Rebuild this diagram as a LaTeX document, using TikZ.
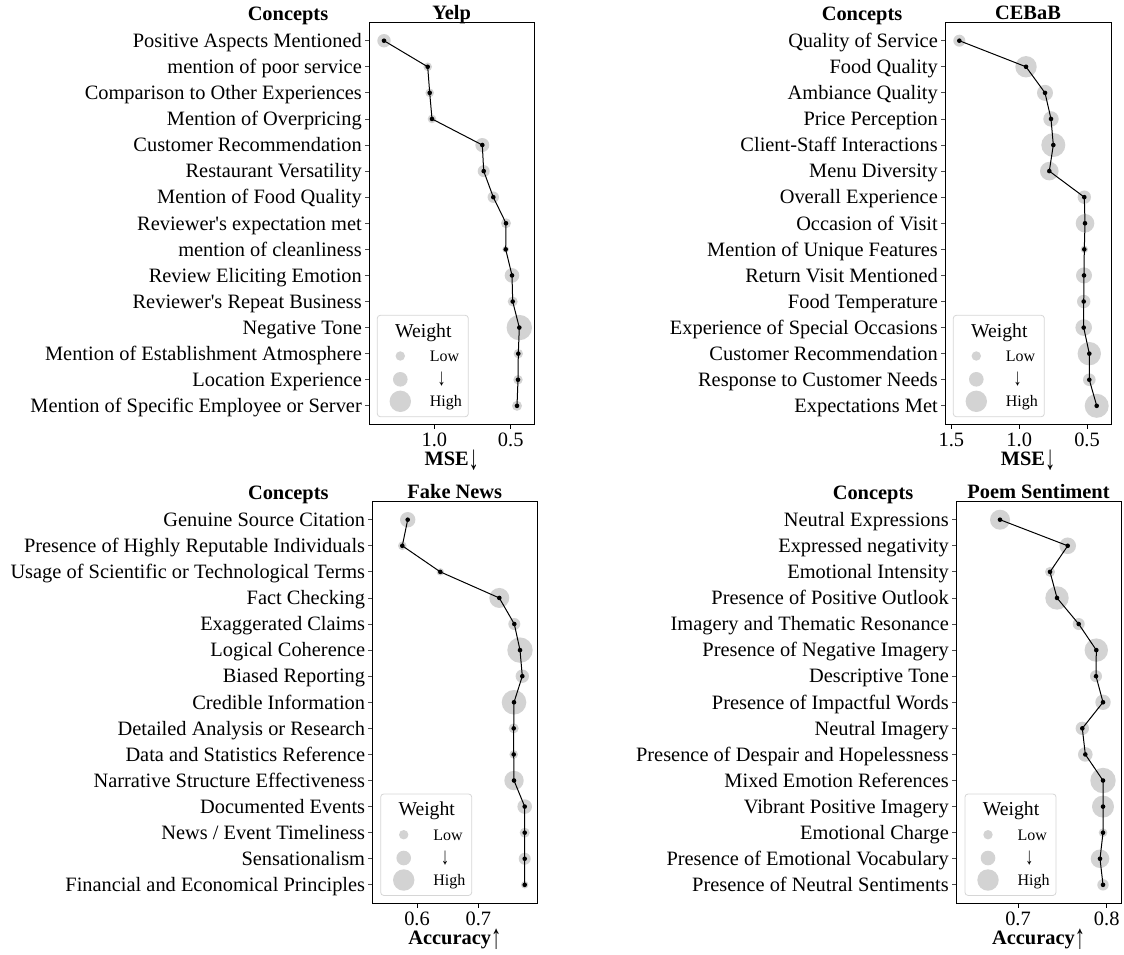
\documentclass[tikz,border=0pt]{standalone}
\usepackage{graphicx}
\usepackage{fontspec}
\setmainfont{Liberation Serif}
\definecolor{wgrey}{HTML}{D3D3D3}
\definecolor{legframe}{HTML}{D6D6D6}
\newcommand\bigfs{\fontsize{20.4}{24}\selectfont}
\newcommand\legfs{\fontsize{16}{19}\selectfont}
\newcommand\dnarrow{\raisebox{-4.5pt}{\scalebox{1}[1.7]{\mdseries ↓}}}
\newcommand\uparr{\raisebox{-4.5pt}{\scalebox{1}[1.7]{\mdseries ↑}}}
\tikzset{
  lbl/.style={anchor=base east, inner sep=0, font=\bigfs},
  ttl/.style={anchor=base, inner sep=0, font=\bigfs\bfseries},
  tck/.style={anchor=base, inner sep=0, font=\bigfs},
  axbox/.style={draw=black, line width=1},
  ytickline/.style={draw=black!70, line width=0.8},
  xtickline/.style={draw=black, line width=0.8},
  wgt/.style={fill=wgrey},
  conn/.style={draw=black, line width=1},
  dot/.style={circle, fill=black, inner sep=0, minimum size=4.6pt},
  legbox/.style={draw=legframe, fill=white, line width=0.8, rounded corners=3},
  legw/.style={anchor=base, inner sep=0, font=\fontsize{19.7}{23}\selectfont},
  legt/.style={anchor=base west, inner sep=0, font=\legfs},
  lega/.style={anchor=center, inner sep=0, font=\legfs},
}
% #1 prefix, #2 box left, #3 box right, #4 box top, #5 labels, #6 x/r pairs
\newcommand\mypanel[6]{%
  \foreach \lab [count=\i] in {#5} {
    \node[lbl] (#1-l\i) at (#2-7, #4+18+26.08*\i-26.08+6.8) {\lab};
    \draw[ytickline] (#2, #4+18+26.08*\i-26.08) -- ++(-4,0);
  }
  \foreach \x/\r [count=\i] in {#6} {
    \coordinate (#1-p\i) at (\x, #4+18+26.08*\i-26.08);
    \fill[wgt] (#1-p\i) circle[radius=\r];
  }
  \draw[conn] (#1-p1) \foreach \i in {2,...,15} { -- (#1-p\i) };
  \foreach \i in {1,...,15} { \node[dot] (#1-d\i) at (#1-p\i) {}; }
  \draw[axbox] (#2,#4) coordinate (#1-tl) rectangle (#3,#4+402) coordinate (#1-br);
}
% #1 prefix, #2 left, #3 top
\newcommand\mylegend[3]{%
  \draw[legbox] (#2,#3) rectangle (#2+91,#3+101.4);
  \node[legw] (#1-w) at (#2+46,#3+21.7) {Weight};
  \fill[wgt] (#2+23,#3+40.7) circle[radius=4.7];
  \fill[wgt] (#2+23,#3+64) circle[radius=7.3];
  \fill[wgt] (#2+23,#3+86) circle[radius=10.7];
  \node[legt] (#1-lo) at (#2+52.4,#3+46) {Low};
  \node[lega] (#1-ar) at (#2+64.4,#3+64.2) {\scalebox{1}[1.5]{↓}};
  \node[legt] (#1-hi) at (#2+52.4,#3+91.5) {High};
}
\begin{document}
\begin{tikzpicture}[x=1pt,y=-1pt]
\useasboundingbox (0,0) rectangle (1124,954);

% ---------------- Yelp ----------------
\mypanel{Y}{369}{534.3}{22.7}{Positive Aspects Mentioned, mention of poor service, Comparison to Other Experiences, Mention of Overpricing, Customer Recommendation, Restaurant Versatility, Mention of Food Quality, Reviewer\textquotesingle s expectation met, mention of cleanliness, Review Eliciting Emotion, Reviewer\textquotesingle s Repeat Business, Negative Tone, Mention of Establishment Atmosphere, Location Experience, Mention of Specific Employee or Server}{384/6.7, 427.7/4.3, 429.7/4.3, 432/4.3, 482.3/7, 483.7/6, 493.3/5.7, 506/5, 505.7/3.3, 512/7.3, 512.7/5, 519.3/12.7, 518.3/4.7, 518/4.7, 517/5}
\mylegend{YL}{377.3}{315.3}
\node[ttl] (Y-title) at (451.7,19) {Yelp};
\node[ttl] (Y-conc) at (288,20) {Concepts};
\draw[xtickline] (434.3,424.7) -- ++(0,4);
\draw[xtickline] (510.7,424.7) -- ++(0,4);
\node[tck] (Y-t1) at (434.3,446) {1.0};
\node[tck] (Y-t2) at (510.7,446) {0.5};
\node[ttl] (Y-xl) at (451.7,465) {MSE\dnarrow};

% ---------------- CEBaB ----------------
\mypanel{C}{945}{1111}{22.7}{Quality of Service, Food Quality, Ambiance Quality, Price Perception, Client-Staff Interactions, Menu Diversity, Overall Experience, Occasion of Visit, Mention of Unique Features, Return Visit Mentioned, Food Temperature, Experience of Special Occasions, Customer Recommendation, Response to Customer Needs, Expectations Met}{959.3/6, 1026/10.7, 1045/8, 1051/7.7, 1053.3/12, 1049.3/9.3, 1084.3/6.7, 1085/9.3, 1084.3/3.7, 1084/8, 1083.7/6.7, 1083.7/8.3, 1089.3/11.7, 1089.3/6.3, 1096.7/12}
\mylegend{CL}{953.3}{315.3}
\node[ttl] (C-title) at (1028,19) {CEBaB};
\node[ttl] (C-conc) at (862,20) {Concepts};
\draw[xtickline] (951.3,424.7) -- ++(0,4);
\draw[xtickline] (1019.2,424.7) -- ++(0,4);
\draw[xtickline] (1087,424.7) -- ++(0,4);
\node[tck] (C-t1) at (951.3,446) {1.5};
\node[tck] (C-t2) at (1019.2,446) {1.0};
\node[tck] (C-t3) at (1087,446) {0.5};
\node[ttl] (C-xl) at (1028,465) {MSE\dnarrow};

% ---------------- Fake News ----------------
\mypanel{F}{372.3}{537.3}{501.7}{Genuine Source Citation, Presence of Highly Reputable Individuals, Usage of Scientific or Technological Terms, Fact Checking, Exaggerated Claims, Logical Coherence, Biased Reporting, Credible Information, Detailed Analysis or Research, Data and Statistics Reference, Narrative Structure Effectiveness, Documented Events, News / Event Timeliness, Sensationalism, Financial and Economical Principles}{407.7/7.7, 402.3/4.3, 440.3/3.7, 499.3/10, 514.3/6, 520/12.7, 522.3/6.7, 514/12.3, 513.7/5, 513.7/4.3, 514/9.7, 524.7/7.3, 524.7/5, 524.7/6, 524.7/3.7}
\mylegend{FL}{380.7}{794}
\node[ttl] (F-title) at (454.8,498) {Fake News};
\node[ttl] (F-conc) at (288.3,499) {Concepts};
\draw[xtickline] (417,903.7) -- ++(0,4);
\draw[xtickline] (478.3,903.7) -- ++(0,4);
\node[tck] (F-t1) at (417,925) {0.6};
\node[tck] (F-t2) at (478.3,925) {0.7};
\node[ttl] (F-xl) at (454.8,944) {Accuracy\uparr};

% ---------------- Poem Sentiment ----------------
\mypanel{P}{956}{1121}{501.7}{Neutral Expressions, Expressed negativity, Emotional Intensity, Presence of Positive Outlook, Imagery and Thematic Resonance, Presence of Negative Imagery, Descriptive Tone, Presence of Impactful Words, Neutral Imagery, Presence of Despair and Hopelessness, Mixed Emotion References, Vibrant Positive Imagery, Emotional Charge, Presence of Emotional Vocabulary, Presence of Neutral Sentiments}{1000/10, 1067.7/8.3, 1050/5, 1057/11.7, 1078.7/6, 1096.3/11.7, 1096/6, 1103/7.7, 1082.3/6.7, 1085.3/7.3, 1103/12.7, 1103/11, 1103/4.3, 1100/9.3, 1103/5.7}
\mylegend{PL}{965}{794}
\node[ttl] (P-title) at (1038.5,498) {Poem Sentiment};
\node[ttl] (P-conc) at (873,499) {Concepts};
\draw[xtickline] (1018,903.7) -- ++(0,4);
\draw[xtickline] (1106.7,903.7) -- ++(0,4);
\node[tck] (P-t1) at (1018,925) {0.7};
\node[tck] (P-t2) at (1106.7,925) {0.8};
\node[ttl] (P-xl) at (1038.5,944) {Accuracy\uparr};
\end{tikzpicture}
\end{document}
